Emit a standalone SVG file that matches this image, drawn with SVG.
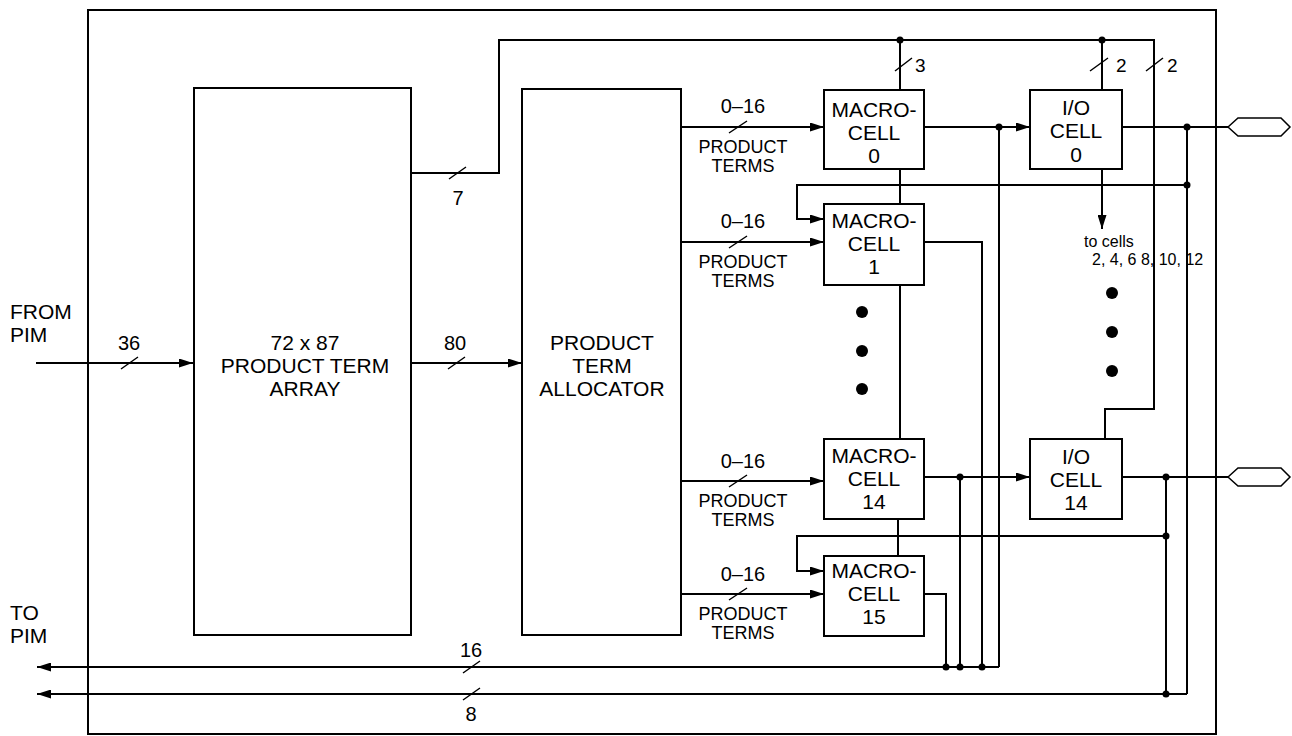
<svg xmlns="http://www.w3.org/2000/svg" width="1292" height="736" viewBox="0 0 1292 736">
<defs>
<marker id="arr" viewBox="0 0 14 9" refX="14" refY="4.5" markerWidth="14" markerHeight="9" markerUnits="userSpaceOnUse" orient="auto">
<path d="M0,0 L14,4.5 L0,9 Z" fill="#000"/>
</marker>
</defs>
<style>
.b{fill:#fff;stroke:#000;stroke-width:2}
.w{fill:none;stroke:#000;stroke-width:2}
.a{fill:none;stroke:#000;stroke-width:2;marker-end:url(#arr)}
.s{fill:none;stroke:#000;stroke-width:1.5}
.hx{fill:#fff;stroke:#000;stroke-width:1.5}
.d{fill:#000}
text{font-family:"Liberation Sans",Arial,Helvetica,sans-serif;fill:#000}
.L{font-size:21px;text-anchor:middle}
.M{font-size:20px;text-anchor:middle}
.N{font-size:19px}
.P{font-size:18px;text-anchor:middle}
.t{font-size:16px}
</style>
<rect x="0" y="0" width="1292" height="736" fill="#fff"/>
<rect id="frame" x="88" y="10" width="1128" height="724" fill="none" stroke="#000" stroke-width="2"/>

<g id="connectors">
<path class="a" d="M36,363 H193"/>
<path class="a" d="M411,363 H522"/>
<path class="w" d="M411,173 H499 V40 H1154 V409 H1105 V439"/>
<path class="w" d="M900,40 V90 M900,169 V204 M900,285 V439 M898,519 V556"/>
<path class="w" d="M1102,40 V90"/>
<path class="a" d="M681,127 H824"/>
<path class="a" d="M681,242 H824"/>
<path class="a" d="M681,481 H824"/>
<path class="a" d="M681,594 H824"/>
<path class="a" d="M924,127 H1030"/>
<path class="w" d="M999,127 V667"/>
<path class="a" d="M999,667 H37"/>
<path class="w" d="M924,242 H982 V667"/>
<path class="a" d="M924,477 H1030"/>
<path class="w" d="M960,477 V667"/>
<path class="w" d="M924,594 H946 V667"/>
<path class="w" d="M1122,127 H1228"/>
<path class="w" d="M1187,127 V694"/>
<path class="a" d="M1187,694 H37"/>
<path class="a" d="M1187,185 H797 V219 H824"/>
<path class="a" d="M1102,169 V229"/>
<path class="w" d="M1122,477 H1228"/>
<path class="w" d="M1166,477 V694"/>
<path class="a" d="M1166,536 H797 V571 H824"/>
<!-- bus slashes -->
<path class="s" d="M121,369 L138,357 M448,369 L465,357 M449,179 L466,167 M895,71 L912,58 M1090,71 L1108,58 M1146,71 L1163,58 M729,133 L747,121 M729,248 L747,236 M729,487 L747,475 M729,600 L747,588 M463,673 L480,661 M463,700 L480,688"/>
<!-- junction dots -->
<g class="d">
<circle cx="900" cy="40" r="3.5"/>
<circle cx="1102" cy="40" r="3.5"/>
<circle cx="999" cy="127" r="3.5"/>
<circle cx="1187" cy="127" r="3.5"/>
<circle cx="1187" cy="185" r="3.5"/>
<circle cx="960" cy="477" r="3.5"/>
<circle cx="1166" cy="477" r="3.5"/>
<circle cx="1166" cy="536" r="3.5"/>
<circle cx="946" cy="667" r="3.5"/>
<circle cx="960" cy="667" r="3.5"/>
<circle cx="982" cy="667" r="3.5"/>
<circle cx="1166" cy="694" r="3.5"/>
</g>
<!-- bus labels -->
<text class="M" x="129" y="350">36</text>
<text class="M" x="455" y="350">80</text>
<text class="M" x="458" y="205">7</text>
<text class="N" x="915" y="72">3</text>
<text class="N" x="1116" y="72">2</text>
<text class="N" x="1167" y="72">2</text>
<text class="M" x="471" y="657">16</text>
<text class="M" x="471" y="721">8</text>
<text class="M" x="743" y="113">0–16</text>
<text class="P" x="743" y="153">PRODUCT</text>
<text class="P" x="743" y="172">TERMS</text>
<text class="M" x="743" y="228">0–16</text>
<text class="P" x="743" y="268">PRODUCT</text>
<text class="P" x="743" y="287">TERMS</text>
<text class="M" x="743" y="468">0–16</text>
<text class="P" x="743" y="507">PRODUCT</text>
<text class="P" x="743" y="526">TERMS</text>
<text class="M" x="743" y="581">0–16</text>
<text class="P" x="743" y="620">PRODUCT</text>
<text class="P" x="743" y="639">TERMS</text>
<text class="t" x="1084" y="247">to cells</text>
<text class="t" x="1092" y="265">2, 4, 6 8, 10, 12</text>
</g>

<g id="from-pim">
<text class="L" x="10" y="319" text-anchor="start" style="text-anchor:start">FROM</text>
<text class="L" x="10" y="342" style="text-anchor:start">PIM</text>
</g>
<g id="to-pim">
<text class="L" x="10" y="620" style="text-anchor:start">TO</text>
<text class="L" x="10" y="643" style="text-anchor:start">PIM</text>
</g>

<g id="product-term-array">
<rect class="b" x="194" y="88" width="217" height="547"/>
<text class="L" x="305" y="350">72 x 87</text>
<text class="L" x="305" y="373">PRODUCT TERM</text>
<text class="L" x="305" y="396">ARRAY</text>
</g>
<g id="product-term-allocator">
<rect class="b" x="522" y="89" width="159" height="546"/>
<text class="L" x="602" y="350">PRODUCT</text>
<text class="L" x="602" y="373">TERM</text>
<text class="L" x="602" y="396">ALLOCATOR</text>
</g>
<g id="macrocell-0">
<rect class="b" x="824" y="90" width="100" height="79"/>
<text class="L" x="874" y="117">MACRO-</text>
<text class="L" x="874" y="140">CELL</text>
<text class="L" x="874" y="163">0</text>
</g>
<g id="macrocell-1">
<rect class="b" x="824" y="204" width="100" height="81"/>
<text class="L" x="874" y="228">MACRO-</text>
<text class="L" x="874" y="251">CELL</text>
<text class="L" x="874" y="274">1</text>
</g>
<g id="macrocell-ellipsis" class="d">
<circle cx="862" cy="312" r="6"/>
<circle cx="862" cy="351" r="6"/>
<circle cx="862" cy="389" r="6"/>
</g>
<g id="macrocell-14">
<rect class="b" x="824" y="439" width="100" height="80"/>
<text class="L" x="874" y="463">MACRO-</text>
<text class="L" x="874" y="486">CELL</text>
<text class="L" x="874" y="509">14</text>
</g>
<g id="macrocell-15">
<rect class="b" x="824" y="556" width="100" height="80"/>
<text class="L" x="874" y="578">MACRO-</text>
<text class="L" x="874" y="601">CELL</text>
<text class="L" x="874" y="624">15</text>
</g>
<g id="io-cell-0">
<rect class="b" x="1030" y="90" width="92" height="79"/>
<text class="L" x="1076" y="115">I/O</text>
<text class="L" x="1076" y="138">CELL</text>
<text class="L" x="1076" y="162">0</text>
</g>
<g id="io-ellipsis" class="d">
<circle cx="1112" cy="293" r="6"/>
<circle cx="1112" cy="332" r="6"/>
<circle cx="1112" cy="371" r="6"/>
</g>
<g id="io-cell-14">
<rect class="b" x="1030" y="439" width="92" height="80"/>
<text class="L" x="1076" y="464">I/O</text>
<text class="L" x="1076" y="487">CELL</text>
<text class="L" x="1076" y="510">14</text>
</g>
<g id="pin-0">
<polygon class="hx" points="1228,127 1238,118 1281,118 1290,127 1281,136 1238,136"/>
</g>
<g id="pin-14">
<polygon class="hx" points="1228,477 1238,468 1281,468 1290,477 1281,486 1238,486"/>
</g>
</svg>
